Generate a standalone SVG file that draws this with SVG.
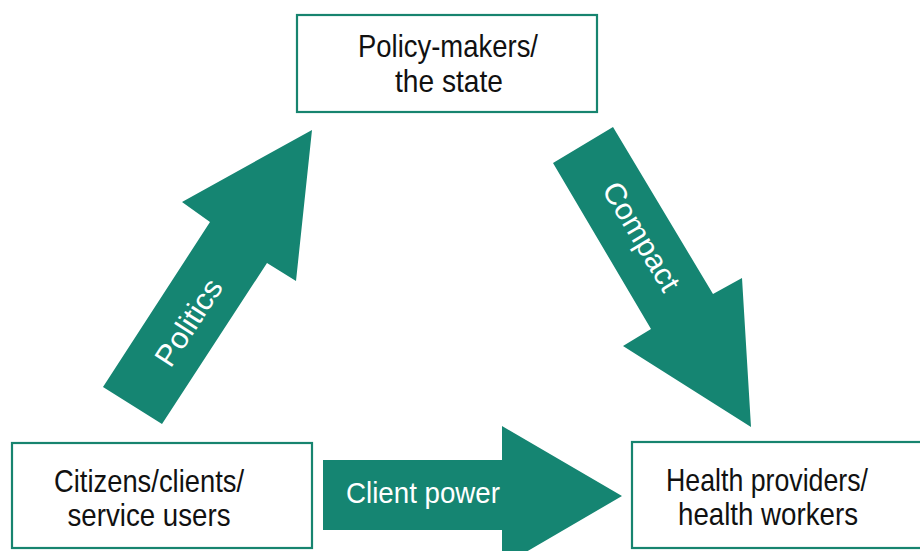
<svg xmlns="http://www.w3.org/2000/svg" width="920" height="551" viewBox="0 0 920 551">
  <style>
    .box { fill: #ffffff; stroke: #17846f; stroke-width: 2.2; }
    .arrow { fill: #158572; }
    .lbl { font-family: "Liberation Sans", Arial, sans-serif; font-size: 32px; fill: #111111; text-anchor: middle; }
    .alb { font-family: "Liberation Sans", Arial, sans-serif; font-size: 30px; fill: #ffffff; text-anchor: middle; }
  </style>
  <rect width="920" height="551" fill="#ffffff"/>

  <!-- block arrows between the three actors -->
  <g id="connectors">
    <g id="politics">
      <polygon class="arrow" points="103,387 162,424 267,263 296,281 312,130 182,202 210,222"/>
      <text class="alb" transform="translate(188,322) rotate(-57)" x="0" y="11" textLength="98" lengthAdjust="spacingAndGlyphs">Politics</text>
    </g>
    <g id="compact">
      <polygon class="arrow" points="553,163 613,127 713,294 742,278 751,427 623,346 651,329"/>
      <text class="alb" transform="translate(642,236) rotate(59)" x="0" y="11" textLength="122" lengthAdjust="spacingAndGlyphs">Compact</text>
    </g>
    <g id="client-power">
      <polygon class="arrow" points="323,460 502,460 502,426 622,496 502,566 502,530 323,530"/>
      <text class="alb" x="423" y="503" font-size="31" textLength="154" lengthAdjust="spacingAndGlyphs">Client power</text>
    </g>
  </g>

  <g id="policy-makers">
    <rect class="box" x="297" y="15" width="300" height="97"/>
    <text class="lbl" x="448" y="57" textLength="180" lengthAdjust="spacingAndGlyphs">Policy-makers/</text>
    <text class="lbl" x="449" y="92" textLength="108" lengthAdjust="spacingAndGlyphs">the state</text>
  </g>

  <g id="citizens">
    <rect class="box" x="12" y="443" width="300" height="105"/>
    <text class="lbl" x="149" y="492" textLength="190" lengthAdjust="spacingAndGlyphs">Citizens/clients/</text>
    <text class="lbl" x="149" y="526" textLength="163" lengthAdjust="spacingAndGlyphs">service users</text>
  </g>

  <g id="providers">
    <rect class="box" x="632" y="442" width="300" height="106"/>
    <text class="lbl" x="767" y="491" textLength="202" lengthAdjust="spacingAndGlyphs">Health providers/</text>
    <text class="lbl" x="768" y="525" textLength="180" lengthAdjust="spacingAndGlyphs">health workers</text>
  </g>
</svg>
